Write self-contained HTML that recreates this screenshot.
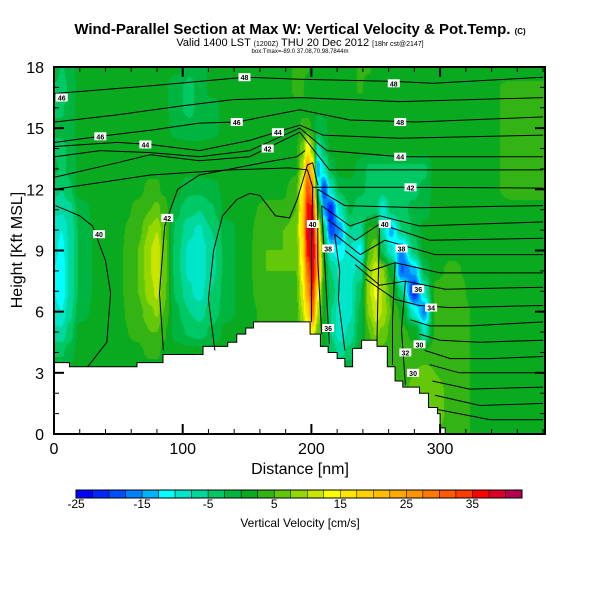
<!DOCTYPE html>
<html><head><meta charset="utf-8">
<style>
body{margin:0;background:#fff;width:600px;height:600px;overflow:hidden;font-family:"Liberation Sans",sans-serif;}
#wrap{position:relative;width:600px;height:600px;}
#field{position:absolute;left:54px;top:67px;}
svg{position:absolute;left:0;top:0;}
</style></head><body>
<div id="wrap">
<canvas id="field" width="491" height="367"></canvas>
<svg id="ov" width="600" height="600">
<text x="300" y="34" text-anchor="middle" font-size="15" font-weight="bold">Wind-Parallel Section at Max W: Vertical Velocity &amp; Pot.Temp. <tspan font-size="8">(C)</tspan></text>
<text x="300" y="46" text-anchor="middle" font-size="11">Valid 1400 LST <tspan font-size="7">(1200Z)</tspan> THU 20 Dec 2012 <tspan font-size="7">[18hr cst@2147]</tspan></text>
<text x="300" y="53" text-anchor="middle" font-size="6">box:Tmax=-89.0 37.08,70.98,7844m</text>
<g id="terrain"></g>
<g id="lines"></g>
<g id="labels"></g>
<g id="axes"></g>
<text x="300" y="474" text-anchor="middle" font-size="16">Distance [nm]</text>
<text transform="translate(22,250) rotate(-90)" text-anchor="middle" font-size="16">Height [Kft MSL]</text>
<g id="cbar"></g>
<text x="300" y="527" text-anchor="middle" font-size="12">Vertical Velocity [cm/s]</text>
</svg>
</div>
<script>
const cols=[0,6,12,20,35,50,65,75,80,85,95,105,113,122,135,150,165,178,188,193,197,201,205,210,215,222,230,238,245,250,255,262,270,280,288,296,310,330,355,380];
const hts=[18,17,16,15,14,13,12,11,10,9,8,7,6,5,4,3,2,1,0];
const wGrid=[
[1,-3,-1,1,1, 1,1,1,1,1, 1,-2,-2,1,1, 1,1,1,3,3, 3,1,1,1,1, 1,1,3,3,1, 1,1,1,1,1, 1,1,1,1,1],
[-3,-4,-2,1,1, 1,1,1,1,1, -2,-3,-2,1,1, 1,1,1,3,3, 1,1,1,1,1, 1,1,3,1,1, 1,1,1,1,1, 1,1,1,3,3],
[-3,-3,-1,1,1, 1,1,1,1,1, -2,-3,-2,-1,1, 1,1,1,2,2, 1,1,1,1,1, 1,1,1,1,1, 1,1,1,1,1, 1,1,1,3,3],
[-2,-2,-1,1,1, 1,1,1,1,1, -1,-2,-2,-1,1, 1,1,1,1,3, 4,2,-2,-1,1, 1,1,1,1,1, 1,1,1,1,1, 1,1,1,3,3],
[-3,-3,-2,1,1, 1,1,1,1,1, 1,1,1,1,1, 1,1,1,2,6, 15,8,-8,-3,1, 1,1,1,1,1, 1,1,1,1,1, 1,1,1,3,3],
[-2,-3,-2,1,1, 1,2,2,2,2, 1,1,1,1,1, 1,1,1,2,10, 25,18,-15,-8,-2, 1,1,-1,-3,-3, -3,-3,-3,-3,-3, 1,1,1,3,3],
[-4,-5,-3,1,1, 1,2,3,3,2, 1,-2,-2,-1,1, 1,2,2,4,15, 32,28,-8,-20,-8, -2,-1,-2,-3,-3, -4,-3,-3,-3,-2, 1,1,1,3,3],
[-7,-7,-6,-1,1, 1,3,5,6,4, -2,-4,-5,-3,1, 2,3,3,5,18, 36,36,5,-15,-22, -8,-2,-4,-4,-3, -10,-4,-3,-2,-1, 1,1,1,2,2],
[-9,-10,-7,-2,1, 2,4,8,10,6, -3,-7,-8,-5,-1, 2,4,5,6,18, 38,40,18,-5,-20, -15,-5,-6,3,3, -7,-14,-5,-2,1, 1,1,1,2,2],
[-9,-11,-7,-2,1, 2,5,10,12,7, -4,-8,-10,-6,-1, 2,5,5,6,16, 36,40,24,0,-10, -12,-8,-11,5,8, -3,-9,-16,-4,1, 2,2,1,1,1],
[-10,-12,-7,-2,1, 2,5,10,12,7, -4,-8,-10,-6,-1, 2,5,5,5,14, 30,38,25,2,-5, -8,-8,-7,8,12, 8,1,-18,-14,-2, 2,3,1,1,1],
[-10,-12,-7,-2,1, 2,5,9,11,6, -3,-7,-9,-5,-1, 2,4,4,4,12, 25,35,15,1,-3, -8,-8,-3,10,13, 10,4,-5,-22,-8, 3,4,1,1,1],
[-9,-10,-6,-1,1, 2,4,7,8,5, -2,-5,-6,-4,-1, 2,3,3,4,10, 18,30,10,1,-5, -9,-8,-2,8,12, 10,5,2,-10,-16, 3,4,2,1,1],
[-7,-7,-4,1,1, 2,3,5,5,3, -1,-3,-4,-2,1, 2,3,4,4,6, 10,15,6,1,-5, -9,-7,-1,5,8, 7,4,3,2,-8, 3,4,2,1,1],
[-3,-3,-1,1,1, 1,2,3,3,2, 1,1,1,1,1, 2,3,4,4,4, 6,8,4,1,-3, -6,-4,1,3,4, 4,3,3,3,3, 4,4,2,1,1],
[1,1,1,1,1, 1,1,1,1,1, 1,1,1,1,1, 1,1,1,1,1, 1,1,1,1,1, 1,1,1,1,1, 3,3,4,5,6, 5,4,2,1,1],
[1,1,1,1,1, 1,1,1,1,1, 1,1,1,1,1, 1,1,1,1,1, 1,1,1,1,1, 1,1,1,1,1, 3,3,4,6,6, 6,4,2,1,1],
[1,1,1,1,1, 1,1,1,1,1, 1,1,1,1,1, 1,1,1,1,1, 1,1,1,1,1, 1,1,1,1,1, 1,1,3,5,6, 6,4,2,1,1],
[1,1,1,1,1, 1,1,1,1,1, 1,1,1,1,1, 1,1,1,1,1, 1,1,1,1,1, 1,1,1,1,1, 1,1,3,4,5, 5,4,2,1,1]
];
const levelColors=["#0000ff","#0028ff","#0050ff","#0082ff","#00b4ff","#00ffff","#00e6c8","#00d79b","#00c864","#00b440","#0aaa20","#34b414","#64c80a","#96d700","#c8e600","#ffff00","#ffe600","#ffd200","#ffbe00","#ffaa00","#ff9600","#ff7800","#ff5a00","#ff3c00","#ff0000","#dc0028","#b40050"];
const cbarTicks=[-25,-15,-5,5,15,25,35];
const terrDist=[0,12,64.5,84.7,115.8,135,142,149,155,199,207,213,220,226,232,239,251,259,265,271,284,291,298,300,304];
const terrHt=[3.5,3.3,3.5,3.9,4.3,4.5,4.9,5.2,5.5,4.9,4.3,4.0,3.7,3.3,4.2,4.6,4.3,3.3,2.6,2.3,2.0,1.3,1.0,0.3,0];
const thetaLines=[
{d:[0.8,80,148,191,261,294.5,380],h:[16.7,17.1,17.5,17.4,17.3,17.2,17.5]},
{d:[0.8,49,100,139,191,269,380],h:[15.3,15.65,16.1,16.4,16.5,16.3,16.5]},
{d:[0.8,36,75,113,142,191,230,282,380],h:[14.3,14.6,14.9,15.25,15.3,15.9,15.4,15.3,15.55]},
{d:[0.8,49,75,113,152,191,209,269,380],h:[14.1,14.3,14.2,13.9,14.4,15.15,14.66,14.5,14.66]},
{d:[0.8,36,75,113,152,191,212,269,380],h:[13.6,13.9,13.8,13.6,13.9,15.0,13.9,13.6,13.6]},
{d:[0.8,49,75,113,152,191,214,269,380],h:[12.6,13.3,13.7,13.4,13.6,14.8,12.95,12.95,12.95]},
{d:[0.8,75,137,183,197,201,269,380],h:[12.0,12.7,12.95,13.05,12.95,12.1,12.1,12.06]},
{d:[1,20,30,40,44,41,30,26],h:[11.2,10.7,10.2,8.5,6.9,4.5,3.6,3.3]},
{d:[85,82,86,96,113,162,189,195],h:[4.1,6.9,10.2,12.0,12.7,13.3,13.6,13.9]},
{d:[125,120,124,131,142,152,160,172,183,189,197,201,205],h:[4.1,6.6,9.0,10.7,11.5,11.8,11.7,10.7,10.6,11.5,13.2,13.3,12.2]},
{d:[205,226,284,380],h:[12.0,11.2,11.1,11.2]},
{d:[208,230,253,284,380],h:[11.2,10.2,10.7,10.2,10.4]},
{d:[213,234,253,292,380],h:[10.5,9.5,10.3,9.5,9.6]},
{d:[218,238,257,296,380],h:[9.8,8.8,9.5,8.8,8.8]},
{d:[226,246,265,300,380],h:[9.0,8.0,8.4,7.9,7.9]},
{d:[234,253,273,304,380],h:[8.3,7.3,7.5,7.1,7.2]},
{d:[242,265,284,308,380],h:[7.6,6.6,6.3,6.2,6.3]},
{d:[277,292,323,380],h:[5.6,5.3,5.3,5.5]},
{d:[284,300,331,380],h:[4.9,4.6,4.5,4.6]},
{d:[288,308,339,380],h:[4.1,3.7,3.7,3.8]},
{d:[292,315,380],h:[3.4,3.0,3.0]},
{d:[294,323,380],h:[2.6,2.2,2.3]},
{d:[296,331,380],h:[1.9,1.4,1.5]},
{d:[298,339,380],h:[1.2,0.7,0.7]},
{d:[201,200,200],h:[12.1,9.0,5.5]},
{d:[205,205,208],h:[12.0,8.5,4.9]},
{d:[208,211,214],h:[11.2,7.6,4.4]},
{d:[218,222,221,226],h:[9.8,8.0,6.6,4.1]},
{d:[253,252,251],h:[10.3,7.6,4.6]},
{d:[265,263,263],h:[8.4,5.6,3.4]},
{d:[273,270,273],h:[7.5,5.1,2.4]}
];
const labelText=["48","46","46","48","48","46","44","44","44","42","42","42","40","40","40","38","38","36","34","30","32","30","36"];
const labelD=[148,6,142,264,269,36,71,174,269,166,277,88,35,201,257,213,270,283,293,284,273,279,213];
const labelH=[17.5,16.5,15.3,17.2,15.3,14.6,14.2,14.8,13.6,14.0,12.1,10.6,9.8,10.3,10.3,9.1,9.1,7.1,6.2,4.4,4.0,3.0,5.2];

const X=d=>54+d*1.287, Y=h=>434-h*20.39;
const NS="http://www.w3.org/2000/svg";
function mk(tag,attrs,parent){const e=document.createElementNS(NS,tag);for(const k in attrs)e.setAttribute(k,attrs[k]);parent.appendChild(e);return e;}

function sample(d,h){
  let i=0;while(i<cols.length-2&&d>cols[i+1])i++;
  let tx=(d-cols[i])/(cols[i+1]-cols[i]);tx=Math.max(0,Math.min(1,tx));
  let r=18-h;let j=Math.floor(r);if(j<0)j=0;if(j>17)j=17;let ty=Math.max(0,Math.min(1,r-j));
  tx=tx*tx*(3-2*tx);ty=ty*ty*(3-2*ty);
  const a=wGrid[j][i],b=wGrid[j][i+1],c=wGrid[j+1][i],e=wGrid[j+1][i+1];
  return (a*(1-tx)+b*tx)*(1-ty)+(c*(1-tx)+e*tx)*ty;
}
const rgb=levelColors.map(c=>[parseInt(c.substr(1,2),16),parseInt(c.substr(3,2),16),parseInt(c.substr(5,2),16)]);
const cv=document.getElementById('field'),ctx=cv.getContext('2d');
const img=ctx.createImageData(491,367);
for(let py=0;py<367;py++){for(let px=0;px<491;px++){
  const d=(px+0.5)/1.287,h=(367-py-0.5)/20.39;
  let w=sample(d,h);let k=Math.floor((w+25)/2.5);k=Math.max(0,Math.min(26,k));
  const o=(py*491+px)*4;img.data[o]=rgb[k][0];img.data[o+1]=rgb[k][1];img.data[o+2]=rgb[k][2];img.data[o+3]=255;}}
ctx.putImageData(img,0,0);

const tg=document.getElementById('terrain');
let tp=`M${X(0)},${Y(0)}`;
for(let i=0;i<terrDist.length;i++){const x0=X(terrDist[i]),x1=i<terrDist.length-1?X(terrDist[i+1]):X(380);tp+=` L${x0},${Y(terrHt[i])} L${x1},${Y(terrHt[i])}`;}
tp+=` L${X(380)},${Y(0)} Z`;
const tpath=mk('path',{d:tp,fill:'#fff',stroke:'#000','stroke-width':1},tg);



const lg=document.getElementById('lines');
thetaLines.forEach((L,n)=>{
  const p=L.d.map((d,i)=>`${i?'L':'M'}${X(d).toFixed(1)},${Y(L.h[i]).toFixed(1)}`).join(' ');
  const e=mk('path',{d:p,fill:'none',stroke:'#000','stroke-width':1},lg);
  
  
});
const lb=document.getElementById('labels');
labelText.forEach((t,i)=>{
  const x=X(labelD[i]),y=Y(labelH[i]);
  const r=mk('rect',{x:x-6,y:y-4,width:12,height:8,fill:'#fff'},lb);
  
  
  const tx=mk('text',{x:x,y:y+3,'text-anchor':'middle','font-size':7,'font-weight':'bold'},lb);
  tx.textContent=t;
  
  
});

const ax=document.getElementById('axes');
const frame=mk('rect',{x:54,y:67,width:491,height:367,fill:'none',stroke:'#000','stroke-width':2},ax);


const yTicks=[0,3,6,9,12,15,18];
for(let h=0;h<=18;h++){const y=Y(h),L=h%3===0?10:5;
  mk('line',{x1:54,y1:y,x2:54+L,y2:y,stroke:'#000','stroke-width':h%3===0?2:1},ax);
  mk('line',{x1:545,y1:y,x2:545-L,y2:y,stroke:'#000','stroke-width':h%3===0?2:1},ax);}
yTicks.forEach(h=>{const t=mk('text',{x:44,y:Y(h)+6,'text-anchor':'end','font-size':16},ax);t.textContent=h;
  
  });
const xTicks=[0,100,200,300];
for(let d=0;d<=380;d+=20){const x=X(d),M=d%100===0,L=M?10:5;
  mk('line',{x1:x,y1:434,x2:x,y2:434-L,stroke:'#000','stroke-width':M?2:1},ax);
  mk('line',{x1:x,y1:67,x2:x,y2:67+L,stroke:'#000','stroke-width':M?2:1},ax);}
xTicks.forEach(d=>{const t=mk('text',{x:X(d),y:454,'text-anchor':'middle','font-size':16},ax);t.textContent=d;
  
  });

const cb=document.getElementById('cbar');
const cw=446/27;
levelColors.forEach((c,i)=>{const r=mk('rect',{x:76+i*cw,y:490,width:cw,height:8,fill:c,stroke:'#000','stroke-width':0.5},cb);
  
  });
mk('rect',{x:76,y:490,width:446,height:8,fill:'none',stroke:'#000','stroke-width':1},cb);
cbarTicks.forEach(v=>{const t=mk('text',{x:76+(v+25)/2.5*cw,y:508,'text-anchor':'middle','font-size':12},cb);t.textContent=v;
  
  });
</script>
</body></html>
